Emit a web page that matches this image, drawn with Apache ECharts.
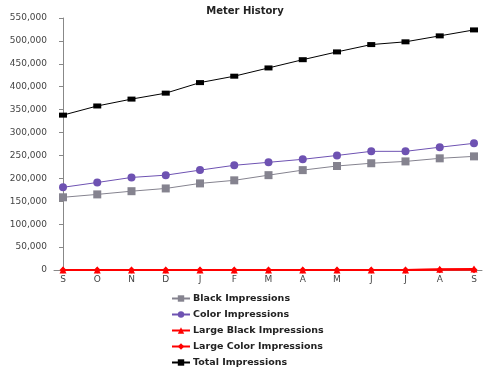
<!DOCTYPE html>
<html><head><meta charset="utf-8">
<script src="https://cdn.jsdelivr.net/npm/echarts@6/dist/echarts.min.js"></script>
<style>html,body{margin:0;padding:0;background:#fff}#c{width:490px;height:370px}</style>
</head><body><div id="c"></div>
<script>
const months = ['S','O','N','D','J','F','M','A','M','J','J','A','S'];
const blackImpr = [158700,165000,172000,178000,189000,195700,207000,218000,227000,233000,237000,243700,248000];
const colorImpr = [180500,191000,202000,207000,218000,228500,235000,241600,250000,259000,259000,268000,276500];
const largeBlack = [0,0,0,0,0,0,0,0,0,0,0,1500,2000];
const largeColor = [0,0,0,0,0,0,0,0,0,0,0,600,800];
const totalImpr = [338000,358000,373000,386000,409000,423000,441000,459000,476000,492000,498000,511000,524000];
const yTicks = [0,50000,100000,150000,200000,250000,300000,350000,400000,450000,500000,550000];

const pts = arr => arr.map((v,i)=>[i,v]);
const font = 'DejaVu Sans';
const chart = echarts.init(document.getElementById('c'));
const mk = (name, data, color, symbol, size, lw) => ({
  name, type:'line', data: pts(data), symbol, symbolSize: size,
  lineStyle:{color, width: lw||1}, itemStyle:{color}, animation:false
});
chart.setOption({
  animation:false,
  title:{text:'Meter History', left:'center', top:1,
    textStyle:{fontFamily:font, fontSize:10, fontWeight:'bold', color:'#222'}},
  grid:{left:54, right:8, top:18, bottom:100},
  xAxis:{type:'value', min:-0.263, max:12.234,
    splitLine:{show:false},
    axisLine:{show:true, onZero:false, lineStyle:{color:'#888'}},
    axisTick:{show:false},
    axisLabel:{customValues: months.map((m,i)=>i), formatter: v => months[Math.round(v)],
      fontFamily:font, fontSize:9, color:'#444', margin:5}
  },
  yAxis:{type:'value', min:0, max:550000, interval:50000,
    splitLine:{show:false},
    axisLine:{show:true, lineStyle:{color:'#888'}},
    axisTick:{show:true, length:4, lineStyle:{color:'#888'}},
    axisLabel:{customValues: yTicks, formatter: v => v.toLocaleString('en-US'),
      fontFamily:font, fontSize:9, color:'#444', margin:7}
  },
  legend:{orient:'vertical', left:166, top:288, height:90, itemWidth:18, itemHeight:8, itemGap:5,
    textStyle:{fontFamily:font, fontSize:9.5, fontWeight:'bold', color:'#222', lineHeight:11, padding:[0,0,0,-2]},
    data:['Black Impressions','Color Impressions','Large Black Impressions','Large Color Impressions','Total Impressions']},
  series:[
    mk('Black Impressions', blackImpr, '#85838f', 'rect', 8),
    mk('Color Impressions', colorImpr, '#6e52b2', 'circle', 8),
    mk('Large Black Impressions', largeBlack, '#ff0000', 'triangle', 7, 2),
    mk('Large Color Impressions', largeColor, '#ff0000', 'diamond', 7, 2),
    mk('Total Impressions', totalImpr, '#000000', 'rect', [8,5])
  ]
});
</script></body></html>
